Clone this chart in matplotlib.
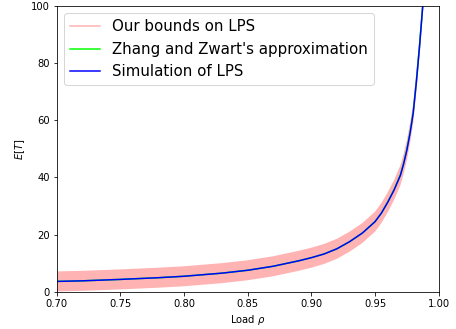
import matplotlib
matplotlib.use("Agg")
import matplotlib.pyplot as plt

# ---------------------------------------------------------
# Data
# ---------------------------------------------------------
load = [0.70, 0.72, 0.75, 0.78, 0.80, 0.83, 0.85, 0.87, 0.89, 0.90,
        0.91, 0.92, 0.93, 0.94, 0.95, 0.955, 0.96, 0.965, 0.97, 0.9725,
        0.975, 0.9775, 0.98, 0.9825, 0.985, 0.9875, 0.99]

sim_lps = [3.6, 3.8, 4.3, 4.9, 5.4, 6.5, 7.5, 8.9, 10.8, 11.9,
           13.2, 15.0, 17.5, 20.5, 24.5, 27.5, 31.3, 35.6, 40.8, 44.8,
           49.5, 55.4, 62.5, 73.5, 86.0, 100.0, 116.0]

zz_approx = [3.6, 3.8, 4.3, 4.9, 5.4, 6.5, 7.5, 8.9, 10.8, 11.9,
             13.2, 15.0, 17.5, 20.5, 24.5, 27.5, 31.4, 35.8, 41.0, 45.0,
             49.8, 55.7, 62.8, 73.8, 86.3, 100.3, 116.5]

bound_low = [0.1, 0.3, 0.8, 1.4, 1.9, 3.0, 4.0, 5.4, 7.3, 8.4,
             9.7, 11.5, 14.0, 17.0, 21.0, 24.0, 27.8, 32.1, 37.3, 41.3,
             46.0, 51.9, 59.0, 70.0, 82.5, 96.5, 112.5]

bound_high = [7.1, 7.3, 7.8, 8.4, 8.9, 10.0, 11.0, 12.4, 14.3, 15.4,
              16.7, 18.5, 21.0, 24.0, 28.0, 31.0, 34.8, 39.1, 44.3, 48.3,
              53.0, 58.9, 66.0, 77.0, 89.5, 103.5, 119.5]

# ---------------------------------------------------------
# Plot
# ---------------------------------------------------------
fig = plt.figure(figsize=(456 / 72, 329 / 72), dpi=72)
ax = fig.add_axes([0.1243, 0.1134, 0.8377, 0.8684])

pink = (1.0, 0.7, 0.7)
ax.fill_between(load, bound_low, bound_high, color=pink, linewidth=0)
ax.plot([], [], color=pink, label="Our bounds on LPS")
ax.plot(load, zz_approx, color="lime", label="Zhang and Zwart's approximation")
ax.plot(load, sim_lps, color="blue", label="Simulation of LPS")

ax.set_xlim(0.70, 1.00)
ax.set_ylim(0, 100)
ax.set_xlabel(r"Load $\rho$")
ax.set_ylabel(r"$E[T]$")
ax.legend(loc="upper left", fontsize=15)

fig.savefig("out.png", dpi=72)
